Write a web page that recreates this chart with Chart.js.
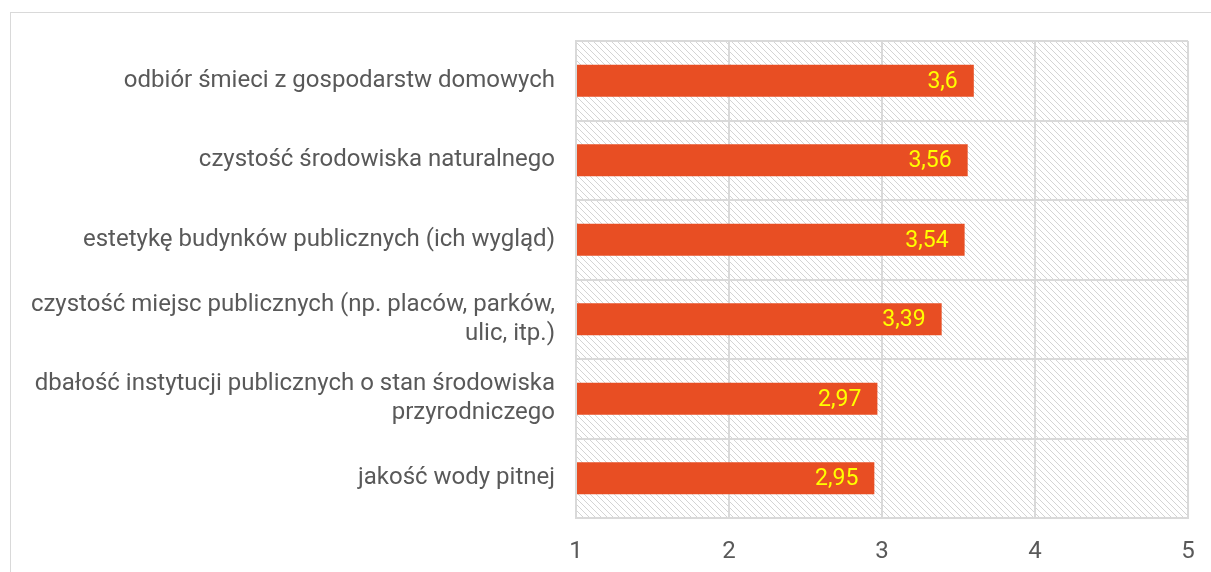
<!DOCTYPE html>
<html>
<head>
<meta charset="utf-8">
<script src="https://cdn.jsdelivr.net/npm/chart.js@4/dist/chart.umd.min.js"></script>
<style>
  html, body { margin: 0; padding: 0; background: #fff; }
  canvas { display: block; }
</style>
</head>
<body>
<canvas id="ratingChart" width="1211" height="572"></canvas>
<script>
// Data
const categories = [
    'odbiór śmieci z gospodarstw domowych',
    'czystość środowiska naturalnego',
    'estetykę budynków publicznych (ich wygląd)',
    ['czystość miejsc publicznych (np. placów, parków,', 'ulic, itp.)'],
    ['dbałość instytucji publicznych o stan środowiska', 'przyrodniczego'],
    'jakość wody pitnej'
];
const ratings = [3.6, 3.56, 3.54, 3.39, 2.97, 2.95];
const tickValues = [1, 2, 3, 4, 5];

const gridColor = '#d9d9d9';
const textColor = '#595959';

// Hatched pattern for the plot area
function makeHatch(target) {
    const c = document.createElement('canvas');
    c.width = 6;
    c.height = 6;
    const p = c.getContext('2d');
    p.strokeStyle = '#d4d4d4';
    p.lineWidth = 1;
    p.beginPath();
    p.moveTo(0, 0); p.lineTo(6, 6);
    p.moveTo(-1, 5); p.lineTo(1, 7);
    p.moveTo(5, -1); p.lineTo(7, 1);
    p.stroke();
    return target.createPattern(c, 'repeat');
}

const backdrop = {
    id: 'backdrop',
    beforeDraw(chart) {
        const { ctx, chartArea } = chart;
        ctx.save();
        ctx.fillStyle = '#fff';
        ctx.fillRect(0, 0, chart.width, chart.height);
        ctx.strokeStyle = gridColor;
        ctx.lineWidth = 1;
        ctx.strokeRect(10.5, 12.5, 3000, 3000);
        ctx.fillStyle = makeHatch(ctx);
        ctx.fillRect(chartArea.left, chartArea.top, chartArea.right - chartArea.left, chartArea.bottom - chartArea.top);
        ctx.restore();
    }
};

const valueLabels = {
    id: 'valueLabels',
    afterDatasetsDraw(chart) {
        const { ctx } = chart;
        const meta = chart.getDatasetMeta(0);
        ctx.save();
        ctx.font = '23px Roboto';
        ctx.fillStyle = '#ffff00';
        ctx.textAlign = 'right';
        ctx.textBaseline = 'middle';
        meta.data.forEach((bar, i) => {
            ctx.fillText(String(ratings[i]).replace('.', ','), bar.x - 16, bar.y + 1);
        });
        ctx.restore();
    }
};

const ctx = document.getElementById('ratingChart').getContext('2d');
const ratingChart = new Chart(ctx, {
    type: 'bar',
    data: {
        labels: categories,
        datasets: [{
            data: ratings,
            base: 1,
            backgroundColor: '#e84e23',
            barPercentage: 0.4,
            categoryPercentage: 1
        }]
    },
    options: {
        indexAxis: 'y',
        responsive: false,
        animation: false,
        layout: { padding: { left: 0, top: 41, right: 23, bottom: 0 } },
        scales: {
            x: {
                min: 1,
                max: 5,
                afterBuildTicks: axis => { axis.ticks = tickValues.map(v => ({ value: v })); },
                afterFit: axis => {
                    axis.height = 54;
                    axis.paddingLeft = 0;
                    axis.paddingRight = 0;
                },
                grid: { color: gridColor, lineWidth: 2, drawTicks: false },
                border: { color: gridColor, width: 2 },
                ticks: { color: textColor, font: { family: 'Roboto', size: 24 }, padding: 20 }
            },
            y: {
                afterFit: axis => { axis.width = 576; },
                grid: { color: gridColor, lineWidth: 2, drawTicks: false, offset: true },
                border: { color: gridColor, width: 2 },
                ticks: { color: textColor, font: { family: 'Roboto', size: 24, lineHeight: 1.19 }, padding: 21 }
            }
        },
        plugins: {
            legend: { display: false },
            tooltip: { enabled: false }
        }
    },
    plugins: [backdrop, valueLabels]
});
</script>
</body>
</html>
